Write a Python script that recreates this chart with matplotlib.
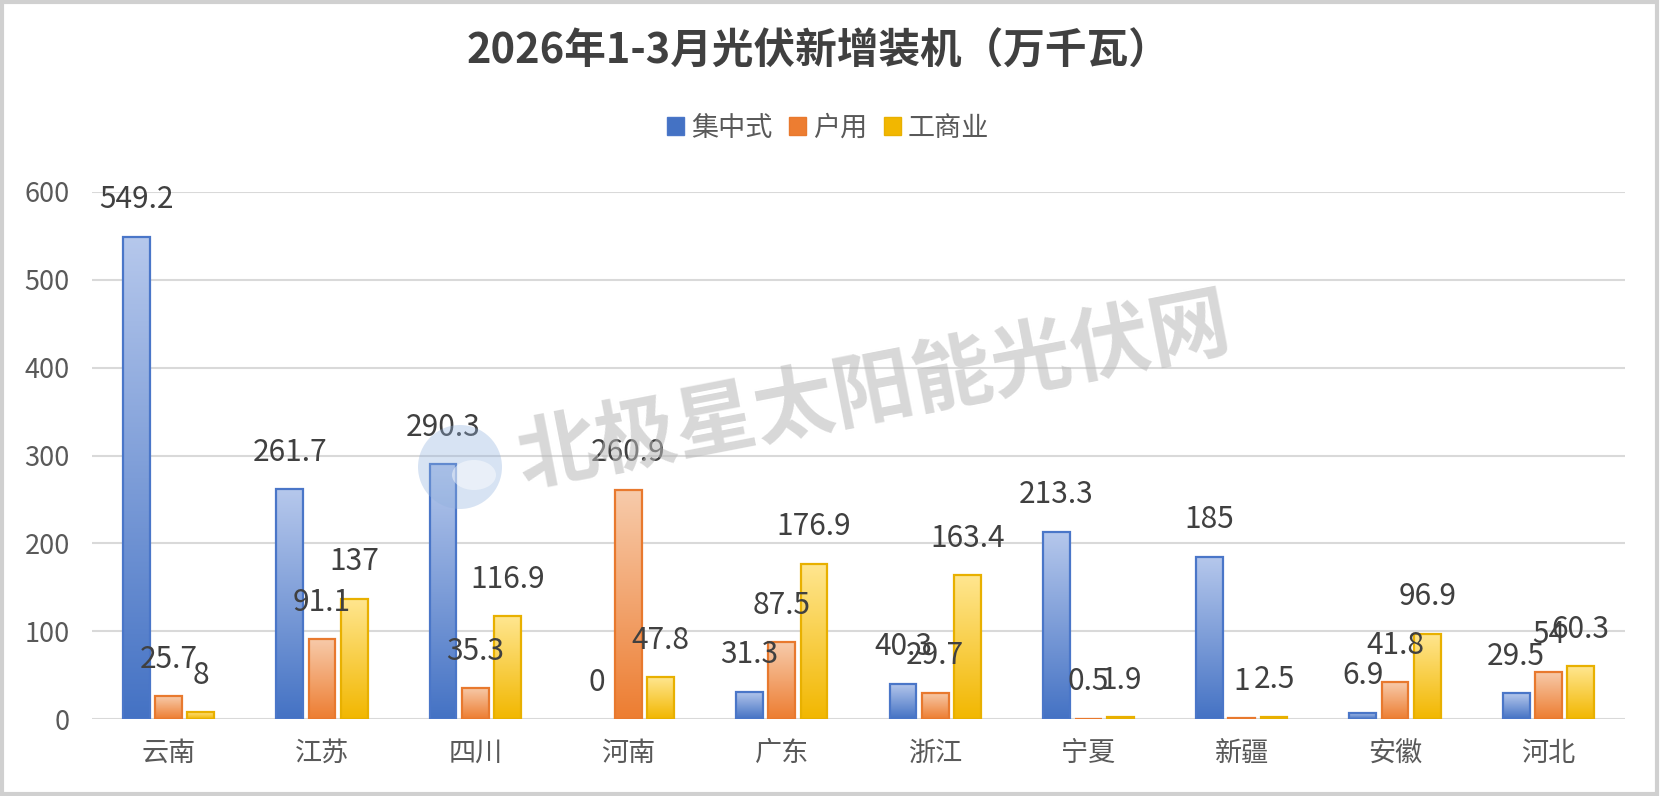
import numpy as np
import matplotlib
matplotlib.use("Agg")
import matplotlib.pyplot as plt
from matplotlib.colors import LinearSegmentedColormap
from matplotlib.patches import Rectangle, Ellipse, Wedge

plt.rcParams['font.family'] = ['Noto Sans CJK SC', 'DejaVu Sans']

# ---- data ----
provinces = ['云南', '江苏', '四川', '河南', '广东', '浙江', '宁夏', '新疆', '安徽', '河北']
series_names = ['集中式', '户用', '工商业']
centralized = [549.2, 261.7, 290.3, 0, 31.3, 40.3, 213.3, 185, 6.9, 29.5]
household = [25.7, 91.1, 35.3, 260.9, 87.5, 29.7, 0.5, 1, 41.8, 54]
commercial = [8, 137, 116.9, 47.8, 176.9, 163.4, 1.9, 2.5, 96.9, 60.3]
yticks = [0, 100, 200, 300, 400, 500, 600]
title = '2026年1-3月光伏新增装机（万千瓦）'
watermark = '北极星太阳能光伏网'

# ---- style ----
W, H = 1660, 796
DPI = 100
grad = {  # (top light, bottom dark, edge)
    '集中式': ('#b6c8ec', '#4472c4', '#4a76c8'),
    '户用': ('#f7cbab', '#ed7d31', '#e8792e'),
    '工商业': ('#ffe690', '#f2b700', '#e8b000'),
}
text_dark = '#404040'
tick_col = '#595959'

fig = plt.figure(figsize=(W / DPI, H / DPI), dpi=DPI)
fig.patch.set_facecolor('white')
ax = fig.add_axes([92 / W, 1 - 719 / H, (1625 - 92) / W, (719 - 192) / H])
ax.set_facecolor('none')

x = np.arange(len(provinces))
bw = 0.175
offs = [-0.21, 0.0, 0.21]
series = [centralized, household, commercial]

ax.set_xlim(-0.5, len(provinces) - 0.5)
ax.set_ylim(0, 600)

g = np.linspace(0, 1, 256).reshape(-1, 1)
for name, vals, off in zip(series_names, series, offs):
    top, bot, edge = grad[name]
    cmap = LinearSegmentedColormap.from_list(name, [bot, top])
    bars = ax.bar(x + off, vals, width=bw, facecolor='none', edgecolor=edge,
                  linewidth=1.6, zorder=3)
    for b, v in zip(bars, vals):
        x0 = b.get_x()
        if v > 0:
            im = ax.imshow(g, extent=(x0, x0 + bw, 0, v), origin='lower',
                           cmap=cmap, aspect='auto', zorder=2,
                           interpolation='bilinear')
            im.set_clip_path(b)
        else:
            b.set_visible(False)
        ax.annotate(f'{v:g}', (x0 + bw / 2, v), xytext=(0, 26.6),
                    textcoords='offset points', ha='center', va='center',
                    fontsize=21.5, color=text_dark, zorder=6,
                    annotation_clip=False)

ax.set_xlim(-0.5, len(provinces) - 0.5)
ax.set_ylim(0, 600)
ax.set_yticks(yticks)
ax.set_xticks(x)
ax.set_xticklabels(provinces)
ax.tick_params(axis='both', length=0, labelsize=19.5, labelcolor=tick_col)
ax.tick_params(axis='y', pad=16)
ax.tick_params(axis='x', pad=15)
ax.grid(axis='y', color='#d9d9d9', linewidth=1.5, zorder=0)
ax.set_axisbelow(True)
for s in ax.spines.values():
    s.set_visible(False)

# title
fig.text(818 / W, 1 - 52 / H, title, ha='center', va='center',
         fontsize=30, fontweight='bold', color=text_dark)

# legend
handles = [Rectangle((0, 0), 1, 1, facecolor=grad[n][1], edgecolor=grad[n][2],
                     linewidth=1) for n in series_names]
leg = fig.legend(handles, series_names, loc='center',
                 bbox_to_anchor=(828 / W, 1 - 128 / H), ncol=3, frameon=False,
                 handlelength=0.65, handleheight=0.65, handletextpad=0.25,
                 columnspacing=0.6, fontsize=19.5)
for t in leg.get_texts():
    t.set_color(tick_col)

# watermark
fig.text(874 / W, 1 - 393 / H, watermark, ha='center', va='center',
         rotation=11, rotation_mode='anchor', fontsize=58, fontweight='bold',
         color='#b8b8b8', alpha=0.55, zorder=5)
cx, cy, r = 460 / W, 1 - 467 / H, 42
fig.patches.append(Ellipse((cx, cy), 2 * r / W, 2 * r / H, transform=fig.transFigure,
                           facecolor='#8fb0dd', edgecolor='none', alpha=0.35, zorder=5))
fig.patches.append(Ellipse((cx + 14 / W, cy - 8 / H), 44 / W, 30 / H,
                           transform=fig.transFigure, facecolor='white',
                           edgecolor='none', alpha=0.45, zorder=5))

# outer border
fig.patches.append(Rectangle((0.001, 0.002), 0.997, 0.995, transform=fig.transFigure,
                             fill=False, edgecolor='#d0d0d0', linewidth=3))

fig.savefig('out.png', dpi=DPI)
